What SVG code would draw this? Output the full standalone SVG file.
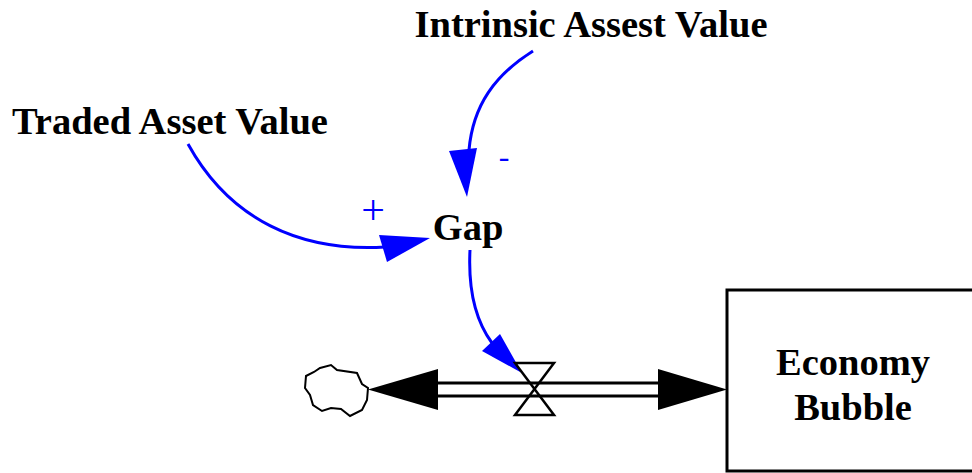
<svg xmlns="http://www.w3.org/2000/svg" width="972" height="473" viewBox="0 0 972 473">
<style>
.lbl{font-family:"Liberation Serif","Times New Roman",serif;font-weight:bold;font-size:38.5px;fill:#000;text-anchor:middle}
.pol{font-family:"Liberation Serif","Times New Roman",serif;font-size:32px;fill:#0000ff;text-anchor:middle}
.link{fill:none;stroke:#0000ff;stroke-width:3}
.head{fill:#0000ff;stroke:none}
.pipe{fill:none;stroke:#000;stroke-width:3}
</style>
<rect width="972" height="473" fill="#fff"/>
<g id="connectors">
  <path class="link" d="M533,51 C495,75 473,105 469,150"/>
  <polygon class="head" points="449,151 477,148 467,197"/>
  <text class="pol" x="504" y="167">-</text>
  <path class="link" d="M188,144 C230,220 300,252 385,247"/>
  <polygon class="head" points="379,235 387,262 430,238"/>
  <text class="pol" x="373" y="224" style="font-size:42px">+</text>
  <path class="link" d="M470,250 C468,290 475,320 492,343"/>
  <polygon class="head" points="482,351 500,334 522,373"/>
</g>
<g id="flow">
  <line class="pipe" x1="438" y1="383" x2="658" y2="383"/>
  <line class="pipe" x1="438" y1="396" x2="658" y2="396"/>
  <polygon points="368,389.5 438,369 438,410" fill="#000"/>
  <polygon points="727,389.5 658,369 658,410" fill="#000"/>
  <polygon points="515,363 554,363 515,415 554,415" fill="none" stroke="#000" stroke-width="2.5"/>
</g>
<g id="cloud">
  <path d="M320,368 L331,365 L337,370 L357,373 L362,384 L368,388 L367,400 L362,410 L350,416 L341,409 L331,408 L322,411 L313,405 L310,395 L305,388 L306,376 L314,372 Z" fill="#fff" stroke="#000" stroke-width="2"/>
</g>
<g id="intrinsic">
  <text class="lbl" x="591" y="37">Intrinsic Assest Value</text>
</g>
<g id="traded">
  <text class="lbl" x="170" y="134">Traded Asset Value</text>
</g>
<g id="gap">
  <text class="lbl" x="468" y="240">Gap</text>
</g>
<g id="economy">
  <rect x="727" y="290" width="260" height="181" fill="#fff" stroke="#000" stroke-width="3"/>
  <text class="lbl" x="853" y="375">Economy</text>
  <text class="lbl" x="853" y="420">Bubble</text>
</g>
</svg>
